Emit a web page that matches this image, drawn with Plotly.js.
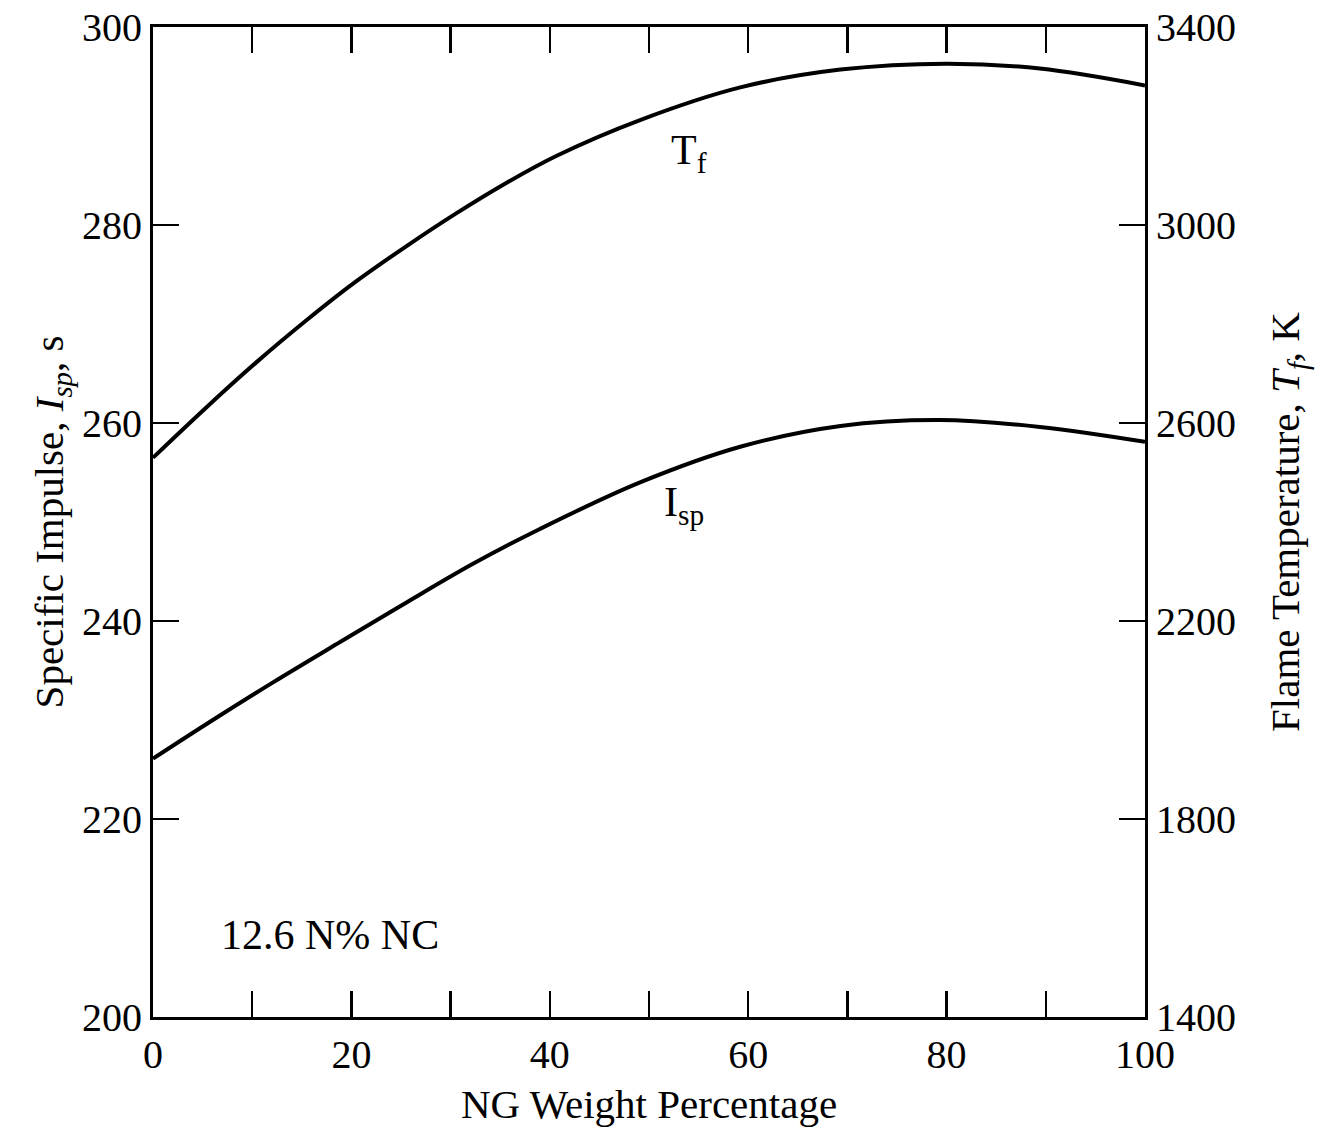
<!DOCTYPE html>
<html>
<head>
<meta charset="utf-8">
<script src="https://cdn.plot.ly/plotly-3.0.1.min.js"></script>
<style>html,body{margin:0;padding:0;background:#fff;}</style>
</head>
<body>
<div id="chart" style="width:1323px;height:1131px;"></div>
<script>
// NG weight percentage
const ngTf = [0, 5.4, 10.5, 15.5, 20.2, 25.6, 30.6, 35.7, 40.7, 49.1, 59.2, 69.3, 80, 89.4, 100];
// Flame temperature, K (right axis)
const tfValues = [2530, 2632, 2724, 2808, 2882, 2958, 3024, 3086, 3140, 3212, 3278, 3314, 3326, 3316, 3282];
const ngIsp = [0, 5.4, 12.1, 18.9, 25.6, 32.3, 39.0, 49.1, 59.2, 69.3, 79.3, 89.4, 100];
// Specific impulse, s (left axis)
const ispValues = [226.1, 229.6, 233.8, 237.9, 241.9, 245.8, 249.3, 254.0, 257.6, 259.7, 260.3, 259.6, 258.1];

const xTickVals = [0, 10, 20, 30, 40, 50, 60, 70, 80, 90, 100];
const xTickText = ['0', '', '20', '', '40', '', '60', '', '80', '', '100'];
const yLeftTicks = [200, 220, 240, 260, 280, 300];
const yRightTicks = [1400, 1800, 2200, 2600, 3000, 3400];

const font = 'Liberation Serif, Times New Roman, serif';
const tickSize = 40;
const titleSize = 41;

const traces = [
  {x: ngTf, y: tfValues, yaxis: 'y2', mode: 'lines', line: {color: '#000', width: 4, shape: 'spline', smoothing: 1}, name: 'Tf'},
  {x: ngIsp, y: ispValues, yaxis: 'y', mode: 'lines', line: {color: '#000', width: 4, shape: 'spline', smoothing: 1}, name: 'Isp'}
];

const layout = {
  width: 1323, height: 1131,
  margin: {l: 153, r: 178, t: 27, b: 114},
  paper_bgcolor: '#fff', plot_bgcolor: '#fff',
  showlegend: false,
  font: {family: font, color: '#000', size: tickSize},
  xaxis: {
    range: [0, 100], tickmode: 'array', tickvals: xTickVals, ticktext: xTickText,
    ticks: 'inside', ticklen: 26, tickwidth: 2.5, tickcolor: '#000',
    showline: true, linecolor: '#000', linewidth: 3, mirror: 'ticks',
    showgrid: false, zeroline: false,
    tickfont: {family: font, size: tickSize, color: '#000'},
    title: {text: 'NG Weight Percentage', font: {family: font, size: titleSize, color: '#000'}, standoff: 14}
  },
  yaxis: {
    range: [200, 300], tickmode: 'array', tickvals: yLeftTicks,
    ticks: 'inside', ticklen: 26, tickwidth: 2.5, tickcolor: '#000',
    showline: true, linecolor: '#000', linewidth: 3,
    showgrid: false, zeroline: false,
    tickfont: {family: font, size: tickSize, color: '#000'},
    title: {text: 'Specific Impulse, <i>I</i><sub><i>sp</i></sub>, s', font: {family: font, size: titleSize, color: '#000'}, standoff: 6}
  },
  yaxis2: {
    range: [1400, 3400], tickmode: 'array', tickvals: yRightTicks,
    overlaying: 'y', side: 'right',
    ticks: 'inside', ticklen: 26, tickwidth: 2.5, tickcolor: '#000',
    showline: true, linecolor: '#000', linewidth: 3,
    showgrid: false, zeroline: false,
    tickfont: {family: font, size: tickSize, color: '#000'},
    title: {text: 'Flame Temperature, <i>T</i><sub><i>f</i></sub>, K', font: {family: font, size: titleSize, color: '#000'}, standoff: 36}
  },
  annotations: [
    {x: 54, y: 287.3, xref: 'x', yref: 'y', text: 'T<sub>f</sub>', showarrow: false, font: {family: font, size: 42, color: '#000'}},
    {x: 53.5, y: 251.7, xref: 'x', yref: 'y', text: 'I<sub>sp</sub>', showarrow: false, font: {family: font, size: 42, color: '#000'}},
    {x: 17.8, y: 208.3, xref: 'x', yref: 'y', text: '12.6 N% NC', showarrow: false, font: {family: font, size: 42, color: '#000'}}
  ]
};

Plotly.newPlot('chart', traces, layout, {displayModeBar: false, staticPlot: true});
</script>
</body>
</html>
